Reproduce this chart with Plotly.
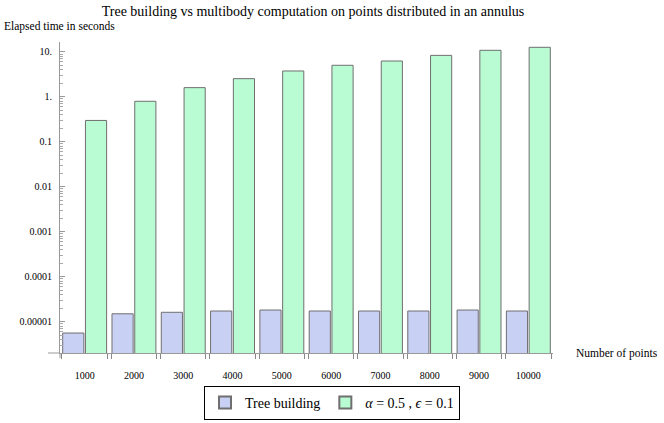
import plotly.graph_objects as go

points = ["1000", "2000", "3000", "4000", "5000", "6000", "7000", "8000", "9000", "10000"]
tree_building = [5.6e-6, 1.5e-5, 1.62e-5, 1.73e-5, 1.82e-5, 1.73e-5, 1.73e-5, 1.73e-5, 1.82e-5, 1.73e-5]
multibody = [0.30, 0.80, 1.61, 2.55, 3.78, 5.06, 6.3, 8.4, 10.9, 12.7]
ytick_vals = [10, 1, 0.1, 0.01, 0.001, 0.0001, 0.00001]
ytick_text = ["10.", "1.", "0.1", "0.01", "0.001", "0.0001", "0.00001"]

SERIF = "Liberation Serif"
EDGE = "#6f6f6f"

fig = go.Figure()
fig.add_trace(go.Bar(x=points, y=tree_building, name="Tree building",
                     marker=dict(color="#c8d0f4", line=dict(color=EDGE, width=1))))
fig.add_trace(go.Bar(x=points, y=multibody, name="<i>α</i> = 0.5 , <i>ϵ</i> = 0.1",
                     marker=dict(color="#b9fcd3", line=dict(color=EDGE, width=1))))
# helper axis for Mathematica-style group edge ticks
n = len(points)
edge_ticks = [i - 0.46 for i in range(n)] + [i + 0.46 for i in range(n)]
fig.add_trace(go.Scatter(x=[], y=[], xaxis="x2", showlegend=False, hoverinfo="skip"))

minor_vals = [m * 10.0 ** k for k in range(-6, 2) for m in range(2, 10)]

L, R, T, B = 60, 111, 42, 70
PW = 664 - L - R
PH = 423 - T - B

fig.update_layout(
    width=664, height=423,
    margin=dict(l=L, r=R, t=T, b=B, pad=0, autoexpand=False),
    paper_bgcolor="white", plot_bgcolor="white",
    barmode="group", bargap=0.077, bargroupgap=0.07,
    font=dict(family=SERIF, size=10, color="black"),
    title=dict(text="Tree building vs multibody computation on points distributed in an annulus",
               x=(313 - L) / PW, xref="paper", xanchor="center",
               y=1 - 11 / 423, yanchor="middle",
               font=dict(family=SERIF, size=14, color="black")),
    xaxis=dict(type="category", range=[-0.5, n - 0.5], showline=True, linecolor="#999999",
               linewidth=1, ticks="", showgrid=False, zeroline=False, automargin=False,
               ticklabelstandoff=13, tickfont=dict(family=SERIF, size=10)),
    xaxis2=dict(overlaying="x", anchor="y", side="bottom", range=[-0.5, n - 0.5],
                tickmode="array", tickvals=edge_ticks, showticklabels=False,
                ticks="outside", ticklen=5, tickcolor="#888888", tickwidth=1,
                showgrid=False, zeroline=False, showline=False),
    yaxis=dict(type="log", range=[-5.696, 1.222], showline=True, linecolor="#999999", linewidth=1,
               tickmode="array", tickvals=ytick_vals, ticktext=ytick_text,
               ticks="inside", ticklen=5, tickcolor="#999999", tickwidth=1,
               minor=dict(tickmode="array", tickvals=minor_vals, ticks="inside",
                          ticklen=3, tickcolor="#aaaaaa", tickwidth=1, showgrid=False),
               showgrid=False, zeroline=False, ticklabelstandoff=5, automargin=False,
               tickfont=dict(family=SERIF, size=10)),
    legend=dict(orientation="h", x=(332 - L) / PW, xanchor="center",
                y=-(386 - (T + PH)) / PH, yanchor="top",
                bordercolor="black", borderwidth=1,
                font=dict(family=SERIF, size=14, color="black"),
                itemsizing="constant", traceorder="normal"),
    annotations=[
        dict(text="Elapsed time in seconds", xref="paper", yref="paper",
             x=(2 - L) / PW, y=(T + PH - 26) / PH, xanchor="left", yanchor="middle",
             showarrow=False, font=dict(family=SERIF, size=11.5)),
        dict(text="Number of points", xref="paper", yref="paper",
             x=(574 - L) / PW, y=0, xanchor="left", yanchor="middle",
             showarrow=False, font=dict(family=SERIF, size=11.5)),
    ],
    shapes=[
        dict(type="line", xref="paper", yref="paper", x0=-12 / PW, x1=0, y0=0, y1=0,
             line=dict(color="#999999", width=1)),
        dict(type="line", xref="paper", yref="paper", x0=0, x1=0, y0=-5 / PH, y1=0,
             line=dict(color="#999999", width=1)),
    ],
)

fig.write_html("out.html", config={"displayModeBar": False},
               post_script="document.body.style.margin='0px';document.body.style.overflow='hidden';")
